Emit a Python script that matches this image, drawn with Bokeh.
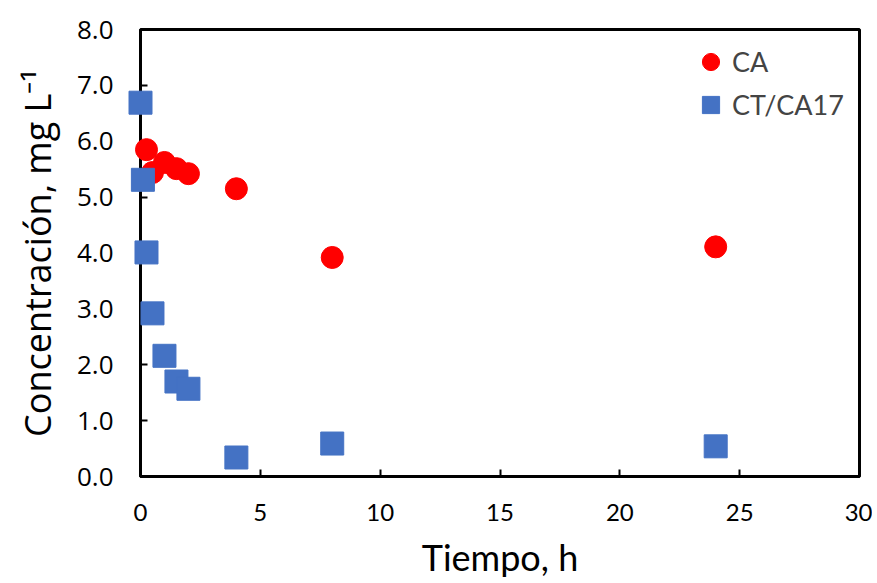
from bokeh.plotting import figure
from bokeh.models import Range1d, FixedTicker, NumeralTickFormatter, Legend, LegendItem
from bokeh.embed import file_html
from bokeh.resources import INLINE

# Data
t_ca = [0.25, 0.5, 1.0, 1.5, 2.0, 4.0, 8.0, 24.0]
c_ca = [5.85, 5.44, 5.62, 5.51, 5.42, 5.15, 3.92, 4.11]
t_ct = [0.0, 0.1, 0.25, 0.5, 1.0, 1.5, 2.0, 4.0, 8.0, 24.0]
c_ct = [6.69, 5.31, 4.01, 2.92, 2.16, 1.70, 1.57, 0.34, 0.59, 0.54]
x_ticks = [0, 5, 10, 15, 20, 25, 30]
y_ticks = [0, 1, 2, 3, 4, 5, 6, 7, 8]

p = figure(width=872, height=583, output_backend="svg", toolbar_location=None,
           x_range=Range1d(0, 30), y_range=Range1d(0, 8),
           min_border_left=140, min_border_right=13, min_border_top=29, min_border_bottom=107)
p.background_fill_color = "white"
p.border_fill_color = "white"
p.grid.visible = False
p.outline_line_color = "black"
p.outline_line_width = 3

r1 = p.scatter(t_ca, c_ca, marker="circle", size=22, color="#FF0000", level="overlay")
r2 = p.scatter(t_ct, c_ct, marker="square", size=23, color="#4472C4", level="overlay")

for ax in (p.xaxis[0], p.yaxis[0]):
    ax.axis_line_color = "black"
    ax.axis_line_width = 3
    ax.major_tick_in = 7
    ax.major_tick_out = 0
    ax.major_tick_line_width = 2
    ax.major_tick_line_color = "black"
    ax.minor_tick_line_color = None

p.xaxis.ticker = FixedTicker(ticks=x_ticks)
p.yaxis.ticker = FixedTicker(ticks=y_ticks)
p.yaxis.formatter = NumeralTickFormatter(format="0.0")

p.xaxis.major_label_text_font = "Lato"
p.xaxis.major_label_text_font_size = "24px"
p.xaxis.major_label_text_color = "black"
p.xaxis.major_label_standoff = 27
p.yaxis.major_label_text_font = "Open Sans"
p.yaxis.major_label_text_font_size = "26px"
p.yaxis.major_label_text_color = "black"
p.yaxis.major_label_standoff = 27

p.xaxis.axis_label = "Tiempo, h"
p.xaxis.axis_label_text_font = "Lato"
p.xaxis.axis_label_text_font_size = "36px"
p.xaxis.axis_label_text_font_style = "normal"
p.xaxis.axis_label_text_color = "black"
p.xaxis.axis_label_standoff = 11
p.yaxis.axis_label = "Concentración, mg L\u207b\u00b9"
p.yaxis.axis_label_text_font = "Open Sans"
p.yaxis.axis_label_text_font_size = "36px"
p.yaxis.axis_label_text_font_style = "normal"
p.yaxis.axis_label_text_color = "black"
p.yaxis.axis_label_standoff = 12

legend = Legend(items=[LegendItem(label="CA", renderers=[r1]),
                       LegendItem(label="CT/CA17", renderers=[r2])],
                location=(549, 350), padding=0, margin=0, spacing=0,
                glyph_width=43, glyph_height=43, label_standoff=0,
                label_text_font="Lato", label_text_font_size="27px",
                border_line_color=None, background_fill_alpha=0)
p.add_layout(legend)

open("out.html", "w").write(file_html(p, INLINE))
